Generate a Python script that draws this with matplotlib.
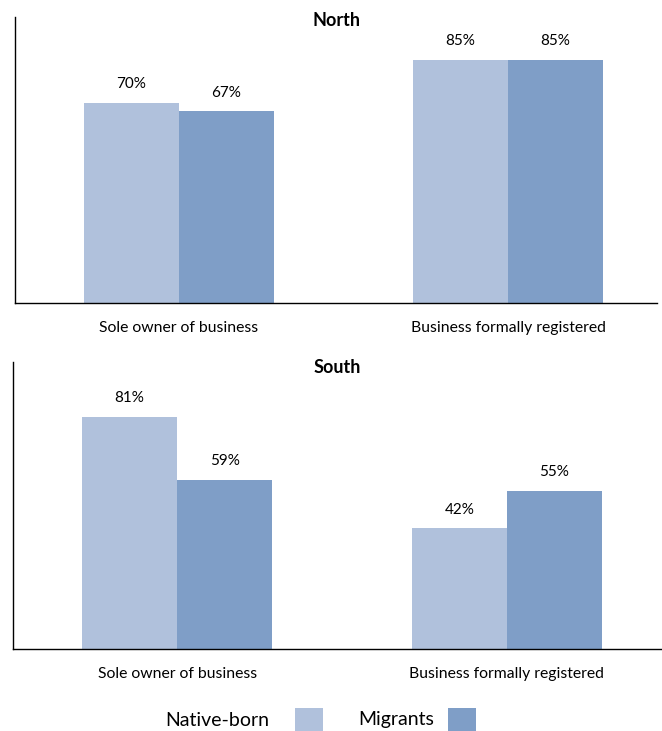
import numpy as np
import matplotlib.pyplot as plt
from matplotlib.patches import Rectangle

# data
categories = ["Sole owner of business", "Business formally registered"]
north_native = [70, 85]
north_migrants = [67, 85]
south_native = [81, 42]
south_migrants = [59, 55]
series_names = ["Native-born", "Migrants"]

c_native = "#b0c1dc"
c_migr = "#7f9ec7"

plt.rcParams["font.family"] = ["Lato", "DejaVu Sans"]

W, H = 662, 731
fig = plt.figure(figsize=(W / 100, H / 100), dpi=100)
ax_n = fig.add_axes([0.0227, 0.5855, 0.97, 0.391])
ax_s = fig.add_axes([0.0196, 0.1122, 0.98, 0.3926])


def draw_panel(ax, native, migr, title, xmax, title_y):
    x = np.arange(len(categories))
    w = 0.288
    b1 = ax.bar(x - w / 2, native, w, color=c_native)
    b2 = ax.bar(x + w / 2, migr, w, color=c_migr)
    for bars in (b1, b2):
        for b in bars:
            ax.annotate(f"{b.get_height():.0f}%", (b.get_x() + b.get_width() / 2, b.get_height()),
                        xytext=(0, 13.5), textcoords="offset points", ha="center", va="center",
                        fontsize=11)
    ax.set_xlim(-0.498, xmax)
    ax.set_ylim(0, 100)
    ax.set_xticks(x)
    ax.set_xticklabels(categories, fontsize=11.3)
    ax.tick_params(axis="x", length=0, pad=13)
    ax.set_yticks([])
    ax.spines["top"].set_visible(False)
    ax.spines["right"].set_visible(False)
    ax.spines["left"].set_linewidth(1.0)
    ax.spines["bottom"].set_linewidth(1.0)
    ax.text(0.5, title_y, title, transform=ax.transAxes, ha="center", va="center",
            fontsize=13, fontweight="bold")


draw_panel(ax_n, north_native, north_migrants, "North", 1.453, 0.99)
draw_panel(ax_s, south_native, south_migrants, "South", 1.47, 0.98)

# legend drawn by hand: label first, swatch after it
legend_items = [(series_names[0], c_native, 165, 295), (series_names[1], c_migr, 358, 448)]
for name, col, tx, px in legend_items:
    fig.text(tx / W, 1 - 720 / H, name, ha="left", va="center", fontsize=14)
    fig.patches.append(Rectangle((px / W, 0), 28 / W, 23 / H, transform=fig.transFigure,
                                 facecolor=col, edgecolor="none"))

fig.savefig("out.png", dpi=100)
